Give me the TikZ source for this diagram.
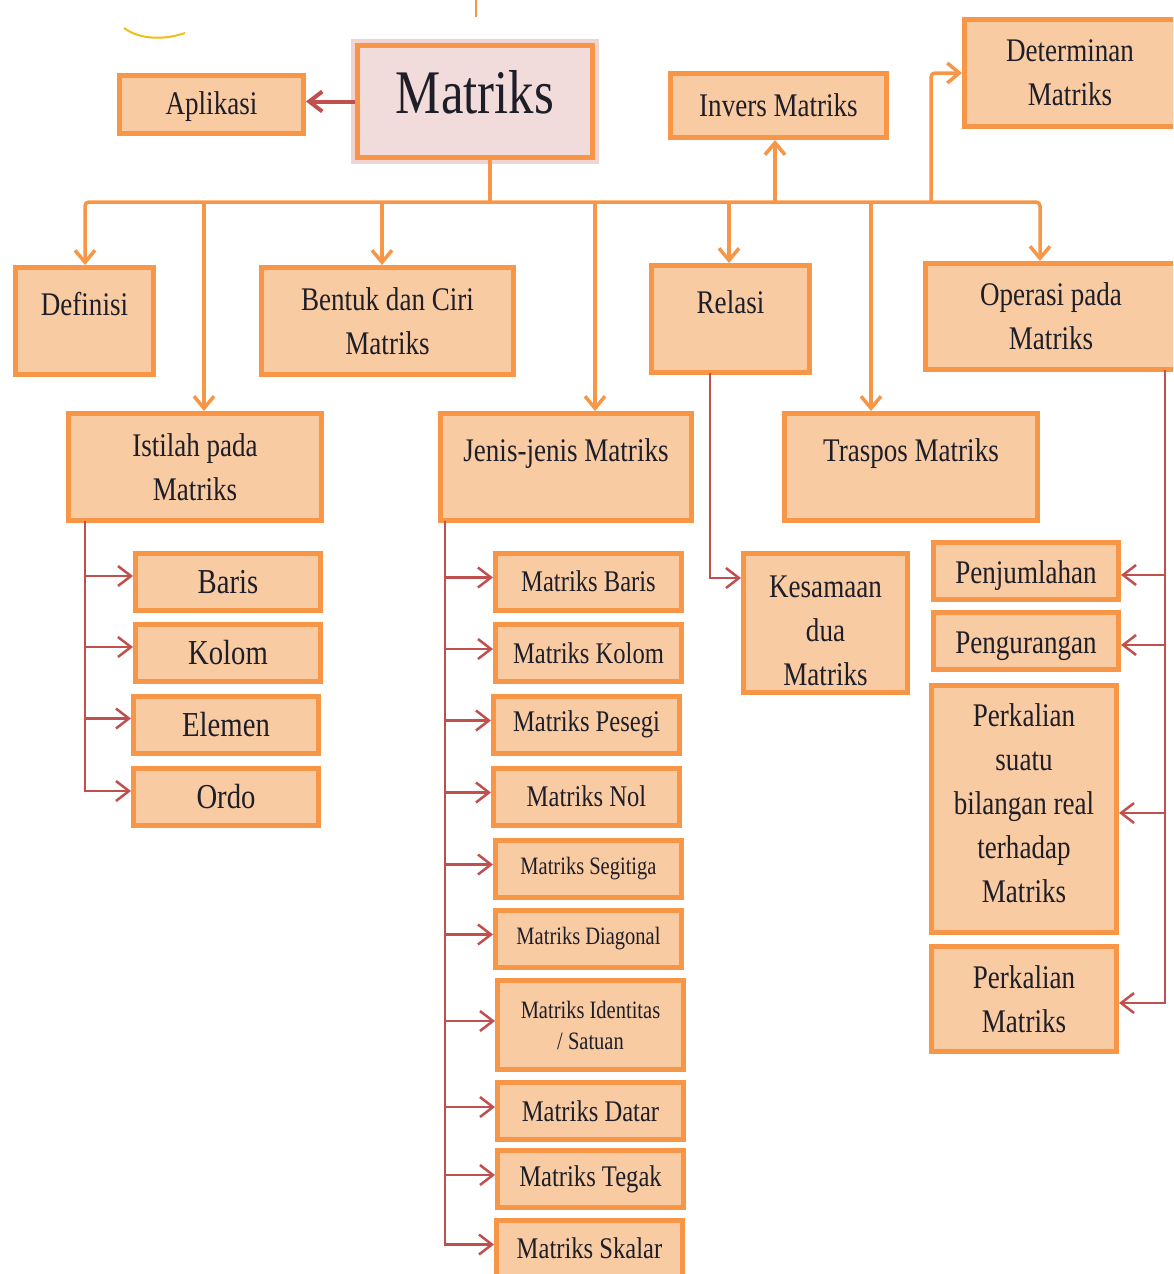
\documentclass[tikz,border=0pt]{standalone}
\usepackage{fontspec}
\setmainfont{Liberation Serif}[FakeStretch=0.82]
\usetikzlibrary{arrows.meta}

\definecolor{oren}{RGB}{247,150,70}
\definecolor{persik}{RGB}{249,203,163}
\definecolor{merahmuda}{RGB}{242,220,219}
\definecolor{merah}{RGB}{192,80,77}
\definecolor{kuning}{RGB}{240,190,20}
\definecolor{teks}{RGB}{30,30,40}

\tikzset{
	kotak/.style={draw=oren, fill=persik, line width=2.5pt, align=center,
		inner sep=0pt, text=teks, font=\fontsize{16.5}{22}\selectfont},
	ukuran/.style 2 args={minimum width=#1pt, minimum height=#2pt},
	atas/.style={text depth=17pt},
	garis/.style={draw=oren, line width=1.75pt},
	panah/.style={garis, -{Straight Barb[length=6pt,width=10pt]}},
	cabang/.style={draw=merah, line width=1.25pt,
		-{Straight Barb[length=6.5pt,width=10pt]}}
}

\begin{document}
\begin{tikzpicture}[x=0.5pt, y=-0.5pt]
	\useasboundingbox (0,0) rectangle (1173,1274);
	\clip (0,0) rectangle (1173,1274);
	% Reste am oberen Rand
	\draw[kuning, line width=1pt] (124,28) .. controls (140,40) and (165,40) .. (185,33);
	\draw[oren, line width=0.8pt] (476,0) -- (476,17);

	% Hauptknoten
	\node[kotak, ukuran={117.5}{56}, fill=merahmuda, font=\fontsize{31}{36}\selectfont,
		text depth=10pt, preaction={draw=merah!45, line width=6.5pt, opacity=0.55}]
		(matriks) at (475,101.5) {Matriks};
	\node[kotak, ukuran={92}{29}, text height=14pt] (aplikasi) at (211.5,104.5) {Aplikasi};
	\node[kotak, ukuran={108}{32}] (invers) at (778.5,105.5) {Invers Matriks};
	\node[kotak, ukuran={105.5}{53.5}] (determinan) at (1070,73) {Determinan\\Matriks};

	% Zweite Ebene
	\node[kotak, ukuran={69}{53.5}, atas] (definisi) at (84.5,321) {Definisi};
	\node[kotak, ukuran={126}{53.5}] (bentuk) at (387.5,321) {Bentuk dan Ciri\\Matriks};
	\node[kotak, ukuran={79}{53.5}, atas] (relasi) at (730.5,319) {Relasi};
	\node[kotak, ukuran={125.5}{53}] (operasi) at (1051,316.5) {Operasi pada\\Matriks};
	\node[kotak, ukuran={126.5}{53.5}] (istilah) at (195,467) {Istilah pada\\Matriks};
	\node[kotak, ukuran={125.5}{53.5}, atas] (jenis) at (566,467) {Jenis-jenis Matriks};
	\node[kotak, ukuran={126.5}{53.5}, atas] (traspos) at (911,467) {Traspos Matriks};

	% Istilah
	\foreach \n/\x/\y/\t in {baris/228/582/Baris, kolom/228/653/Kolom,
		elemen/226/724.5/Elemen, ordo/226/797/Ordo}
		\node[kotak, ukuran={92.5}{28.5}, font=\fontsize{17.5}{20}\selectfont]
			(\n) at (\x,\y) {\t};

	% Jenis-jenis
	\foreach \n/\x/\y/\t in {mbaris/588.5/581.5/Matriks Baris,
		mkolom/588.5/653/Matriks Kolom, mpesegi/586.5/724.5/Matriks Pesegi,
		mnol/586.5/796.5/Matriks Nol, mdatar/590.5/1111/Matriks Datar,
		mtegak/590.5/1179/Matriks Tegak, mskalar/589.5/1248.5/Matriks Skalar}
		\node[kotak, ukuran={93}{28.5}, font=\fontsize{15}{18}\selectfont]
			(\n) at (\x,\y) {\t};
	\foreach \n/\y/\t in {msegitiga/868.5/Matriks Segitiga,
		mdiagonal/938.5/Matriks Diagonal}
		\node[kotak, ukuran={93}{28.5}, font=\fontsize{12.5}{15.5}\selectfont]
			(\n) at (588.5,\y) {\t};
	\node[kotak, ukuran={93}{44.5}, font=\fontsize{12.5}{15.5}\selectfont]
		(midentitas) at (590.5,1025) {Matriks Identitas\\/ Satuan};

	% Relasi und Operasi
	\node[kotak, ukuran={82}{69.5}, text height=63pt] (kesamaan) at (825.5,623)
		{Kesamaan\\dua\\Matriks};
	\node[kotak, ukuran={92.5}{28.5}, text height=16pt] (penjumlahan) at (1026,571)
		{Penjumlahan};
	\node[kotak, ukuran={92.5}{28.5}, text height=16pt] (pengurangan) at (1026,641)
		{Pengurangan};
	\node[kotak, ukuran={92.5}{123.5}, text depth=6pt] (perkalian) at (1024,809)
		{Perkalian\\suatu\\bilangan real\\terhadap\\Matriks};
	\node[kotak, ukuran={92.5}{52.5}] (perkalianm) at (1024,999) {Perkalian\\Matriks};

	% Stamm und Verteiler
	\coordinate (bus) at (490,202);
	\foreach \n/\x in {def/85, ist/204, ben/382, jen/595, rel/729, inv/775,
		tra/871, det/931, ope/1040}
		\coordinate (bus-\n) at (\x,202);
	\draw[garis] (matriks.south -| bus) -- (bus);
	\draw[cabang, line width=2pt] (matriks.west) -- (matriks.west -| aplikasi.east);
	\draw[panah, rounded corners=2pt] (bus) -- (bus-def) -- (bus-def |- definisi.north);
	\draw[panah, rounded corners=2pt] (bus) -- (bus-ope) -- (bus-ope |- operasi.north);
	\foreach \n/\m in {ist/istilah, ben/bentuk, jen/jenis, rel/relasi, tra/traspos}
		\draw[panah] (bus-\n) -- (bus-\n |- \m.north);
	\draw[panah] (bus-inv) -- (bus-inv |- invers.south);
	\draw[panah, rounded corners=2pt] (bus-det) |- (determinan.west);

	% Unterzweige
	\coordinate (rel-ist) at (85,520.5);
	\foreach \n in {baris, kolom, elemen, ordo}
		\draw[cabang] (rel-ist) |- ([yshift=3pt]\n.west);
	\coordinate (rel-jen) at (445,520.5);
	\foreach \n in {mbaris, mkolom, mpesegi, mnol, msegitiga, mdiagonal,
		midentitas, mdatar, mtegak, mskalar}
		\draw[cabang] (rel-jen) |- ([yshift=2pt]\n.west);
	\coordinate (rel-rel) at (710,372.5);
	\draw[cabang] (rel-rel) |- ([yshift=22.5pt]kesamaan.west);
	\coordinate (rel-ope) at (1165,370);
	\foreach \n in {penjumlahan, pengurangan, perkalian, perkalianm}
		\draw[cabang] (rel-ope) |- ([yshift=-2pt]\n.east);
\end{tikzpicture}
\end{document}
